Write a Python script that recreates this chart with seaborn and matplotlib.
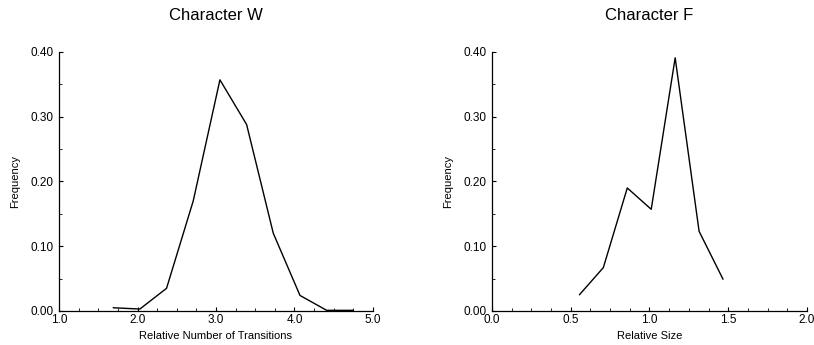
import numpy as np
import pandas as pd
import matplotlib.pyplot as plt
import seaborn as sns
from matplotlib.ticker import MultipleLocator, FormatStrFormatter

# data
w_x = [1.69, 2.03, 2.37, 2.71, 3.05, 3.39, 3.73, 4.07, 4.41, 4.75]
w_freq = [0.005, 0.003, 0.035, 0.170, 0.357, 0.288, 0.120, 0.024, 0.001, 0.001]

f_x = [0.555, 0.707, 0.859, 1.011, 1.163, 1.315, 1.467]
f_freq = [0.025, 0.067, 0.190, 0.157, 0.391, 0.123, 0.049]

titles = ['Character W', 'Character F']
xlabels = ['Relative Number of Transitions', 'Relative Size']
xlims = [(1.0, 5.0), (0.0, 2.0)]
xmajor = [1.0, 0.5]
xminor = [0.25, 0.125]

sns.set_theme(style='ticks')
plt.rcParams['font.family'] = ['Liberation Sans', 'DejaVu Sans']
plt.rcParams['text.color'] = 'black'
plt.rcParams['axes.labelcolor'] = 'black'

fig = plt.figure(figsize=(8.14, 3.45), dpi=100)
ax1 = fig.add_axes([0.0725, 0.0986, 0.3857, 0.7507])
ax2 = fig.add_axes([0.6044, 0.0986, 0.3870, 0.7507])

df_w = pd.DataFrame({'x': w_x, 'freq': w_freq})
df_f = pd.DataFrame({'x': f_x, 'freq': f_freq})

for ax, df, title, xl, lim, mj, mn in zip([ax1, ax2], [df_w, df_f], titles,
                                          xlabels, xlims, xmajor, xminor):
    sns.lineplot(data=df, x='x', y='freq', ax=ax, color='black', linewidth=1.0,
                 sort=False, estimator=None)
    ax.set_xlim(*lim)
    ax.set_ylim(0, 0.40)
    ax.xaxis.set_major_locator(MultipleLocator(mj))
    ax.xaxis.set_minor_locator(MultipleLocator(mn))
    ax.yaxis.set_major_locator(MultipleLocator(0.10))
    ax.yaxis.set_minor_locator(MultipleLocator(0.05))
    ax.xaxis.set_major_formatter(FormatStrFormatter('%.1f'))
    ax.yaxis.set_major_formatter(FormatStrFormatter('%.2f'))
    ax.tick_params(which='major', direction='in', length=3, width=0.8,
                   labelsize=8.5, colors='black', pad=2)
    ax.tick_params(which='minor', direction='in', length=2, width=0.6,
                   colors='black')
    ax.tick_params(axis='y', pad=4)
    sns.despine(ax=ax)
    for s in ['left', 'bottom']:
        ax.spines[s].set_linewidth(0.9)
        ax.spines[s].set_color('black')
    ax.set_title(title, fontsize=12, pad=23, color='black')
    ax.set_xlabel(xl, fontsize=8, labelpad=4)
    ax.set_ylabel('Frequency', fontsize=8, labelpad=7)

fig.savefig('out.png', dpi=100)
